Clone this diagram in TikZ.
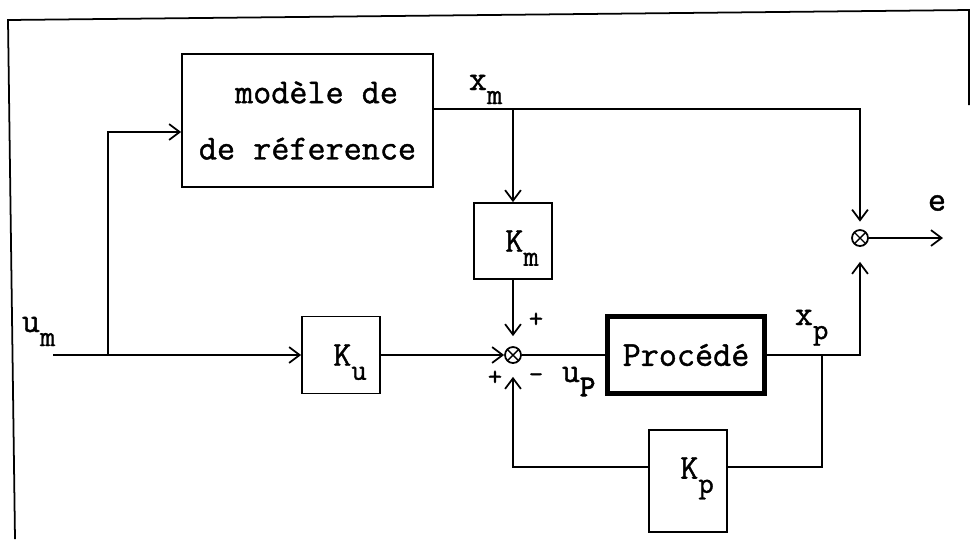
\documentclass[tikz,border=0pt]{standalone}
\usepackage{fontspec}
\setmonofont{Latin Modern Mono}[FakeBold=1.2]
\newfontfamily\boldmono{Latin Modern Mono}[FakeBold=3]
\renewcommand{\familydefault}{\ttdefault}
\usetikzlibrary{arrows.meta}
\newcommand{\lowsub}[1]{\raisebox{-8pt}{\fontsize{17}{17}\selectfont #1}}
\newcommand{\gainlbl}[1]{\hphantom{x}K\lowsub{#1}}

\begin{document}
\begin{tikzpicture}[x=0.02cm,y=-0.02cm,line width=1pt,
  >={Straight Barb[length=6pt,width=9pt]},
  box/.style={draw,inner sep=0pt,font=\fontsize{20}{32}\selectfont,align=center},
  gain/.style={box,minimum width=78*0.02cm,text depth=0pt},
  sum/.style={draw,circle,inner sep=0pt,minimum size=0.32cm,
    path picture={\draw[line width=0.8pt] (path picture bounding box.north west) -- (path picture bounding box.south east)
      (path picture bounding box.north east) -- (path picture bounding box.south west);}},
  lbl/.style={inner sep=0pt,anchor=base west,font=\fontsize{20}{22}\selectfont},
  sgn/.style={inner sep=0pt,font=\fontsize{16}{16}\selectfont}]
  \useasboundingbox (0,0) rectangle (971,539);
  \draw (15,539) -- (8,20) -- (969,10) -- (969,105);
  % blocs
  \node[box,minimum width=251*0.02cm,minimum height=133*0.02cm] (model) at (307.5,120.5) {\phantom{m}modèle de\\de réference};
  \node[gain,minimum height=76*0.02cm] (Km) at (513,241) {\gainlbl{m}};
  \node[gain,minimum height=77*0.02cm] (Ku) at (341,355) {\gainlbl{u}};
  \node[gain,minimum height=102*0.02cm,text depth=0.52cm] (Kp) at (688,481) {\gainlbl{p}};
  \node[box,line width=2.4pt,minimum width=157*0.02cm,minimum height=77*0.02cm] (proc) at (686,355) {Procédé};
  \node[sum] (sumL) at (513,355) {};
  \node[sum] (sumR) at (860,238) {};
  \coordinate (in) at (53,355); \coordinate (split) at (108,355);
  \coordinate (fb) at (822,355); \coordinate (eout) at (943,238);
  % liaisons
  \draw[->] (in) -- (Ku.west);
  \draw[->] (split) |- ([yshift=-0.23cm]model.west);
  \draw[->,shorten >=0.15cm] ([yshift=0.23cm]model.east) -| (sumR.north);
  \draw[->] (Km.north |- 0,109) -- (Km.north);
  \draw[->,shorten >=0.2cm] (Km.south) -- (sumL.north);
  \draw[->] (Ku.east) -- (sumL.west);
  \draw (sumL.east) -- (proc.west);
  \draw[->,shorten >=0.3cm] (proc.east) -| (sumR.south);
  \draw (fb) |- ([yshift=0.28cm]Kp.east);
  \draw[->,shorten >=0.26cm] ([yshift=0.28cm]Kp.west) -| (sumL.south);
  \draw[->] (sumR.east) -- (eout);
  % textes
  \node[lbl] (lxm) at (468,90) {x\lowsub{m}};
  \node[lbl] (lum) at (21,332) {u\lowsub{m}};
  \node[lbl] (lxp) at (794,325) {x\lowsub{p}};
  \node[lbl] (lup) at (561,382) {u\lowsub{\boldmono P}};
  \node[inner sep=0pt,font=\fontsize{20}{22}\selectfont] (le) at (937,203) {e};
  \node[sgn] (p1) at (536,320) {+};
  \node[sgn] (p2) at (495,378) {+};
  \node[sgn] (m1) at (536,378) {\textendash};
\end{tikzpicture}
\end{document}
